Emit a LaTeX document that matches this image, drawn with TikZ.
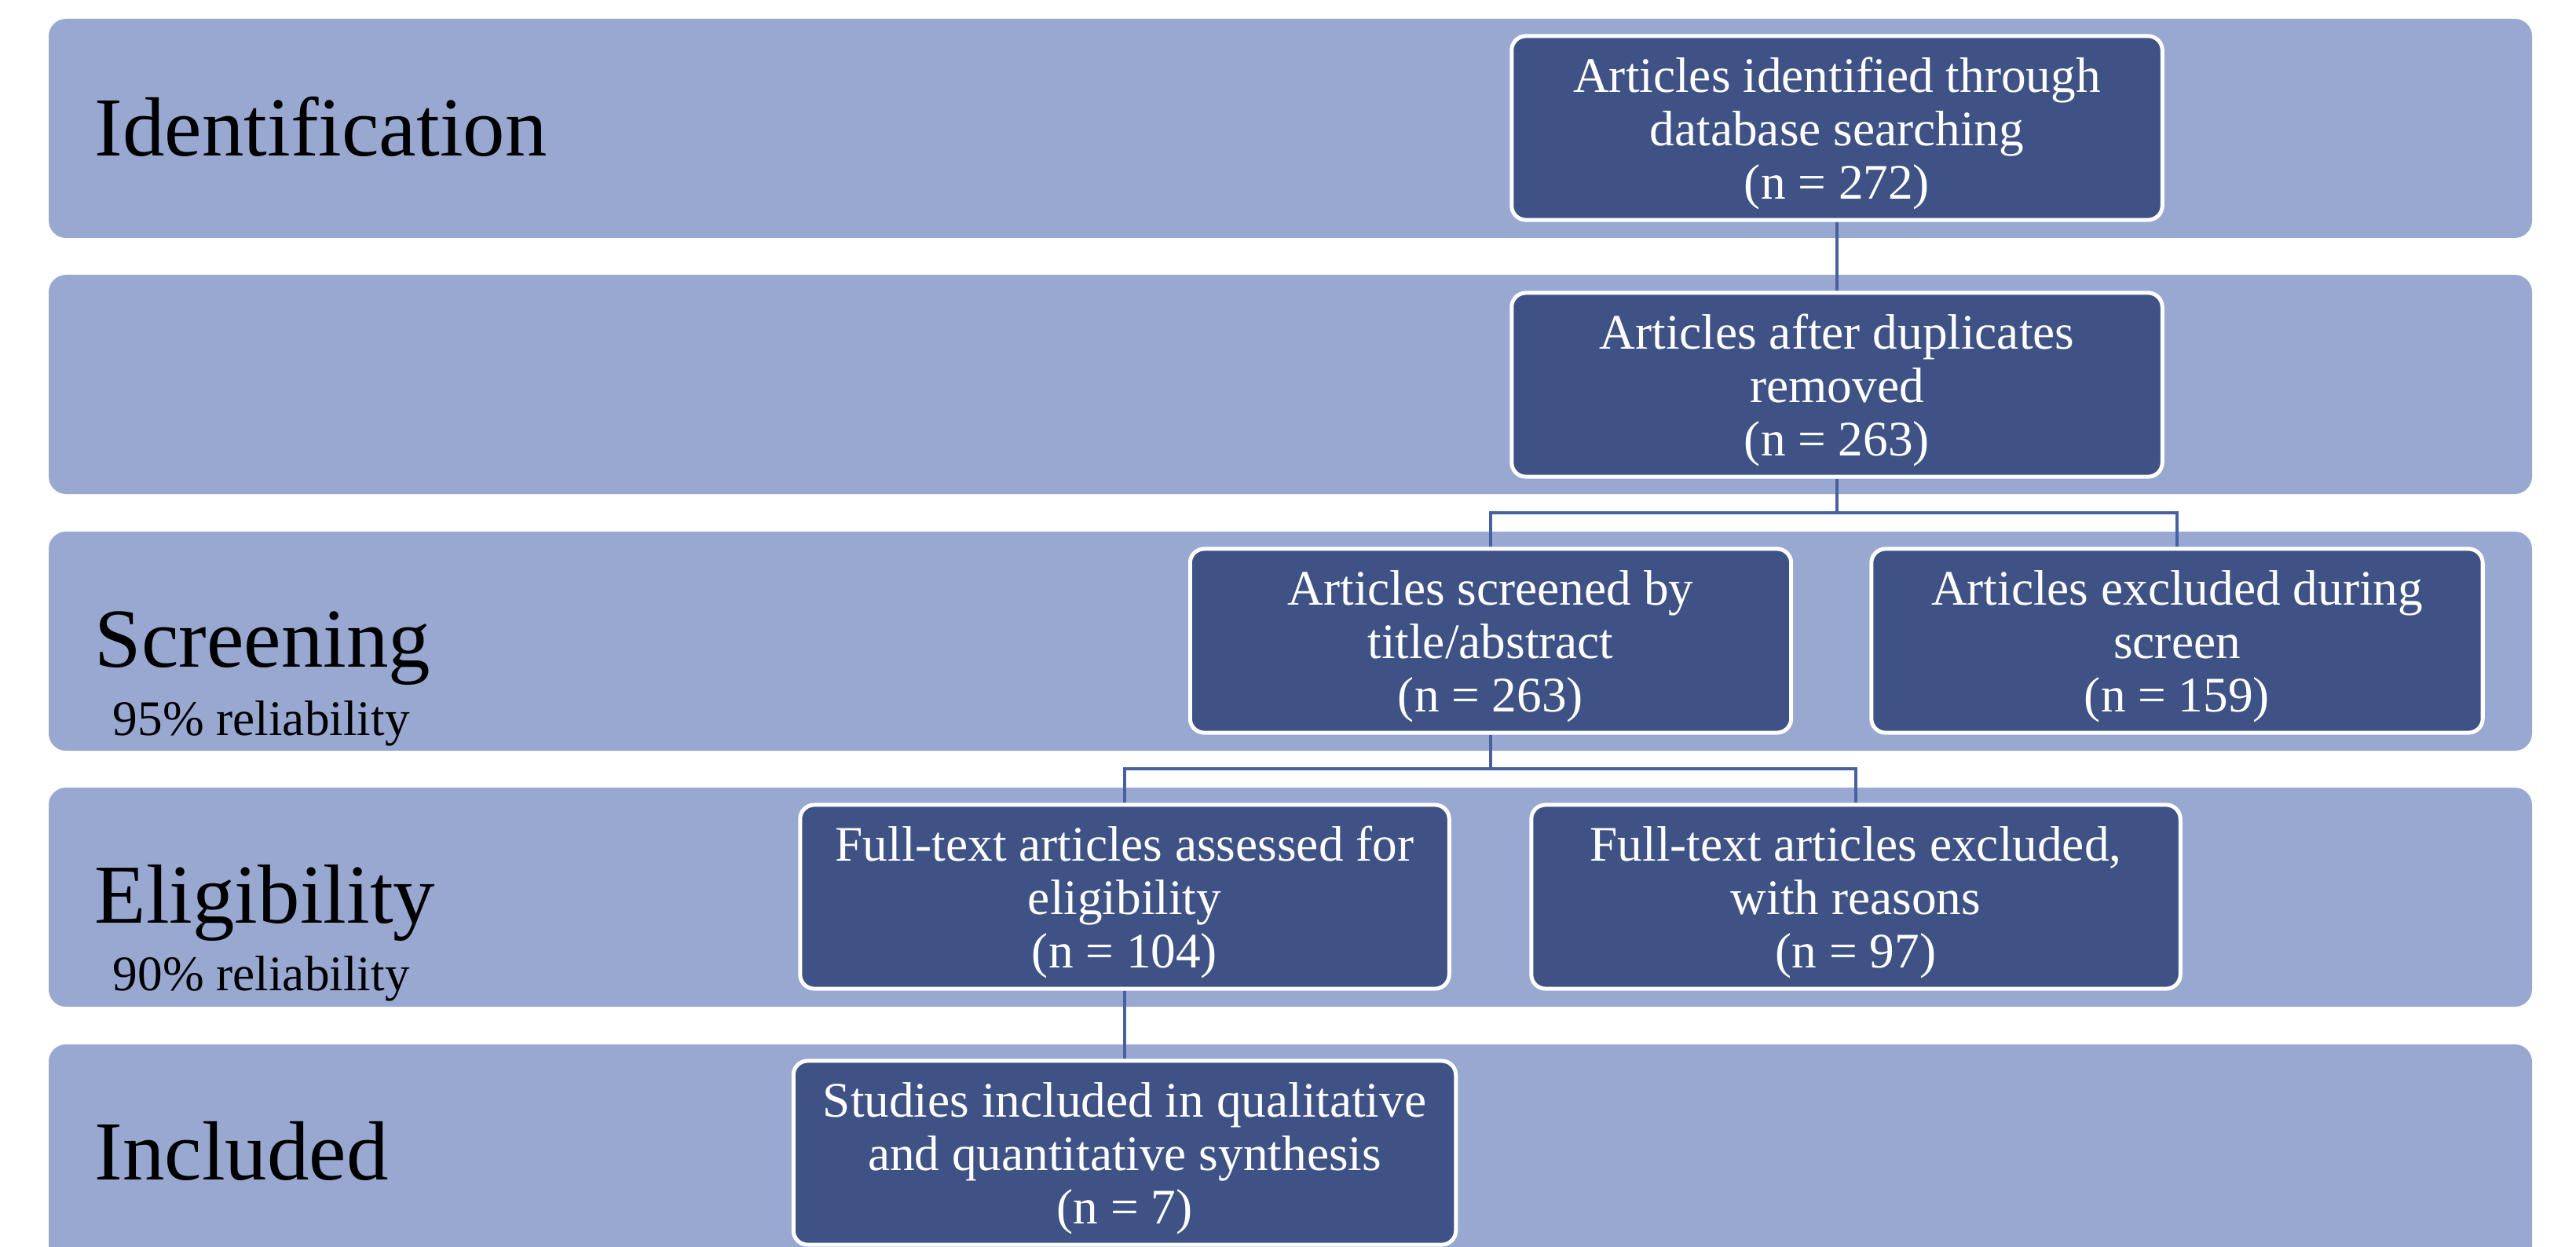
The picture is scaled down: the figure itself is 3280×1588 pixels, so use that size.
\documentclass[tikz,border=0pt]{standalone}
\usepackage{fontspec}
\setmainfont{Liberation Serif}
\definecolor{bandfill}{HTML}{98A8D0}
\definecolor{boxfill}{HTML}{3F5285}
\definecolor{linkcol}{HTML}{4660A0}
\begin{document}
\begin{tikzpicture}[x=0.01cm,y=-0.01cm,
  band/.style={fill=bandfill, draw=none, rounded corners=0.22cm},
  stagebox/.style={fill=boxfill, draw=white, line width=0.05cm, rounded corners=0.18cm, inner sep=0pt, minimum height=2.34cm},
  boxtext/.style={text=white, align=center, font=\fontsize{18}{19.3}\selectfont, inner sep=0pt, yshift=-0.07cm},
  phase/.style={anchor=base west, inner sep=0pt, font=\fontsize{30.4}{32}\selectfont},
  rel/.style={anchor=base west, inner sep=0pt, font=\fontsize{18}{20}\selectfont},
  link/.style={draw=linkcol, line width=0.045cm}]
\clip (0,0) rectangle (3280,1588);
\fill[white] (0,0) rectangle (3280,1588);
% bands
\path[band] (62,24) rectangle (3224,303);
\path[band] (62,350) rectangle (3224,629);
\path[band] (62,677) rectangle (3224,956);
\path[band] (62,1003) rectangle (3224,1282);
\path[band] (62,1330) rectangle (3224,1640);
% phase labels
\node[phase] (lid) at (120,199) {Identification};
\node[phase] (lsc) at (120,849) {Screening};
\node[rel] (rsc) at (143,936) {95\% reliability};
\node[phase] (lel) at (120,1175) {Eligibility};
\node[rel] (rel) at (143,1261) {90\% reliability};
\node[phase] (lin) at (120,1502) {Included};
% boxes
\node[stagebox, minimum width=8.28cm, label={[boxtext]center:{Articles identified through\\database searching\\(n = 272)}}] (A) at (2339,163) {};
\node[stagebox, minimum width=8.28cm, label={[boxtext]center:{Articles after duplicates\\removed\\(n = 263)}}] (B) at (2339,490) {};
\node[stagebox, minimum width=7.65cm, label={[boxtext]center:{Articles screened by\\title/abstract\\(n = 263)}}] (C) at (1898,816) {};
\node[stagebox, minimum width=7.78cm, label={[boxtext]center:{Articles excluded during\\screen\\(n = 159)}}] (D) at (2772,816) {};
\node[stagebox, minimum width=8.26cm, label={[boxtext]center:{Full-text articles assessed for\\eligibility\\(n = 104)}}] (E) at (1432,1142) {};
\node[stagebox, minimum width=8.26cm, label={[boxtext]center:{Full-text articles excluded,\\with reasons\\(n = 97)}}] (F) at (2363,1142) {};
\node[stagebox, minimum width=8.43cm, label={[boxtext]center:{Studies included in qualitative\\and quantitative synthesis\\(n = 7)}}] (G) at (1432,1468) {};
% connectors
\coordinate (j1) at (0,653);
\coordinate (j2) at (0,979);
\draw[link] (A.south) -- (B.north);
\draw[link] (B.south) -- (B.south |- j1) -| (C.north);
\draw[link] (B.south |- j1) -| (D.north);
\draw[link] (C.south) -- (C.south |- j2) -| (E.north);
\draw[link] (C.south |- j2) -| (F.north);
\draw[link] (E.south) -- (G.north);
\end{tikzpicture}
\end{document}
